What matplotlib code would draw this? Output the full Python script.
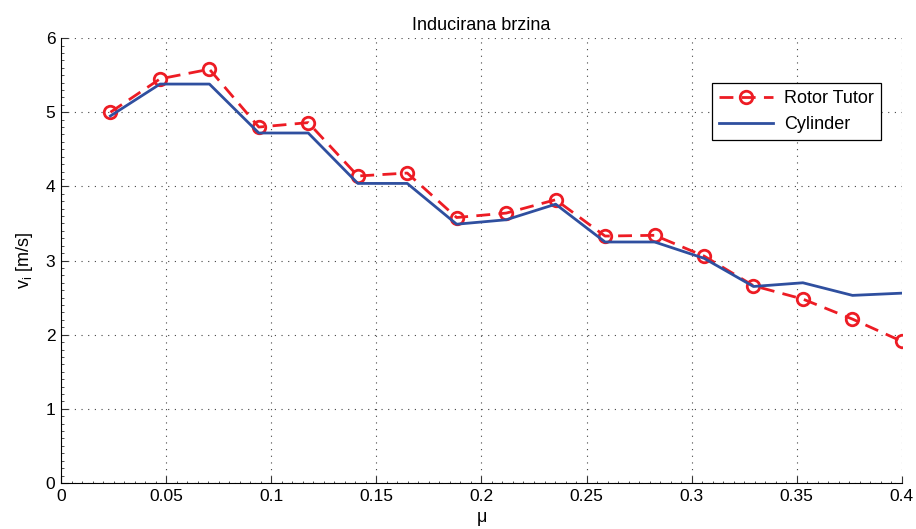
import numpy as np
import matplotlib.pyplot as plt
from matplotlib.ticker import MultipleLocator

plt.rcParams['font.family'] = ['Liberation Sans', 'DejaVu Sans']

# DADOS
mu = [0.0235, 0.0471, 0.0706, 0.0941, 0.1176, 0.1412, 0.1647, 0.1882, 0.2118,
      0.2353, 0.2588, 0.2824, 0.3059, 0.3294, 0.3529, 0.3765, 0.4000]
rotor_tutor = [5.00, 5.45, 5.58, 4.80, 4.86, 4.14, 4.18, 3.58, 3.64,
               3.82, 3.33, 3.34, 3.06, 2.66, 2.48, 2.21, 1.91]
cylinder = [4.95, 5.38, 5.38, 4.72, 4.72, 4.04, 4.04, 3.49, 3.55,
            3.76, 3.25, 3.25, 3.03, 2.65, 2.70, 2.53, 2.56]
x_ticks = [0, 0.05, 0.1, 0.15, 0.2, 0.25, 0.3, 0.35, 0.4]
x_labels = ['0', '0.05', '0.1', '0.15', '0.2', '0.25', '0.3', '0.35', '0.4']

fig = plt.figure(figsize=(9.16, 5.29), dpi=100)
ax = fig.add_axes([0.0666, 0.087, 0.918, 0.841])

ax.plot(mu, rotor_tutor, '--o', color='#ED1C24', linewidth=2.0, markersize=9,
        markerfacecolor='none', markeredgewidth=2.0, dashes=(5, 3), label='Rotor Tutor')
ax.plot(mu, cylinder, '-', color='#2F4F9F', linewidth=2.0, label='Cylinder')

ax.set_xlim(0, 0.4)
ax.set_ylim(0, 6)
ax.set_xticks(x_ticks)
ax.set_xticklabels(x_labels)
ax.xaxis.set_minor_locator(MultipleLocator(0.005))
ax.yaxis.set_major_locator(MultipleLocator(1))
ax.yaxis.set_minor_locator(MultipleLocator(0.1))

ax.spines['top'].set_visible(False)
ax.spines['right'].set_visible(False)
ax.tick_params(which='both', direction='in', labelsize=12.5, color='#333333')
ax.tick_params(which='major', length=5, pad=4)
ax.tick_params(which='minor', length=1.8, width=0.6)
ax.grid(True, which='major', linestyle=(0, (1, 5)), color='#444444', linewidth=0.8)

ax.set_title('Inducirana brzina', fontsize=13, pad=6)
ax.set_xlabel('μ', fontsize=13, labelpad=4)
ax.set_ylabel('v$_\\mathregular{i}$ [m/s]', fontsize=13, labelpad=8)

leg = ax.legend(loc='upper right', bbox_to_anchor=(0.975, 0.899), borderaxespad=0,
                fontsize=13, fancybox=False, edgecolor='black', framealpha=1,
                handlelength=3.0, borderpad=0.4, labelspacing=0.5, handletextpad=0.6)
leg.get_frame().set_linewidth(0.9)

fig.savefig('out.png', dpi=100)
